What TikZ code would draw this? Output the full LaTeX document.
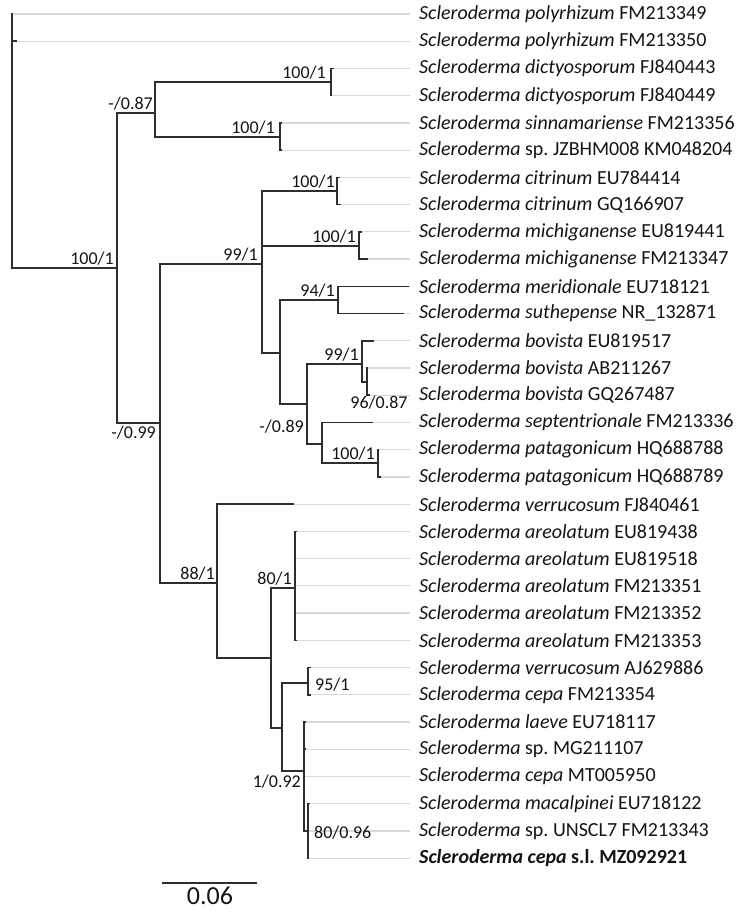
\documentclass[tikz,border=0pt]{standalone}
\usepackage{fontspec}
\setmainfont{Carlito}
\frenchspacing
\newcommand{\Scl}{\textit{Scleroderma}}
\begin{document}
\begin{tikzpicture}[x=1pt,y=-1pt,
  br/.style={line width=1.5pt, draw=black!82, line cap=rect},
  gr/.style={line width=1.2pt, draw=black!15},
  leaf/.style={anchor=west, inner sep=0pt, font=\fontsize{20}{22}\selectfont, text=black!92},
  sup/.style={inner sep=1pt, font=\fontsize{18}{20}\selectfont, text=black!92},
  scl/.style={inner sep=1pt, font=\fontsize{26}{28}\selectfont, text=black!92}]
\useasboundingbox (0,0) rectangle (737,914);
% internal nodes
\coordinate (R) at (12,141);
\coordinate (N1) at (117,268);
\coordinate (N2) at (155,113);
\coordinate (N3) at (160,423);
\coordinate (N4) at (331,82);
\coordinate (N5) at (280,137);
\coordinate (N6) at (262,264);
\coordinate (N7) at (217,583);
\coordinate (N8) at (337,191);
\coordinate (N9) at (359,246);
\coordinate (N10) at (280,353);
\coordinate (N11) at (338,300);
\coordinate (N12) at (307,404);
\coordinate (N13) at (362,364);
\coordinate (N14) at (322,444);
\coordinate (N15) at (367,382);
\coordinate (N16) at (378,463);
\coordinate (N17) at (271,658);
\coordinate (N18) at (295,588);
\coordinate (N19) at (282,728);
\coordinate (N20) at (308,683);
\coordinate (N21) at (304,771);
\coordinate (N22) at (308,831);
% leaves
\foreach \i/\tx/\p/\txt in {
 0/12/R/{\Scl\ \textit{polyrhizum} FM213349},
 1/16/R/{\Scl\ \textit{polyrhizum} FM213350},
 2/333/N4/{\Scl\ \textit{dictyosporum} FJ840443},
 3/331/N4/{\Scl\ \textit{dictyosporum} FJ840449},
 4/281/N5/{\Scl\ \textit{sinnamariense} FM213356},
 5/281/N5/{\Scl\ sp. JZBHM008 KM048204},
 6/339/N8/{\Scl\ \textit{citrinum} EU784414},
 7/340/N8/{\Scl\ \textit{citrinum} GQ166907},
 8/361/N9/{\Scl\ \textit{michiganense} EU819441},
 9/367/N9/{\Scl\ \textit{michiganense} FM213347},
 10/408/N11/{\Scl\ \textit{meridionale} EU718121},
 11/403/N11/{\Scl\ \textit{suthepense} NR\_132871},
 12/373/N13/{\Scl\ \textit{bovista} EU819517},
 13/367/N15/{\Scl\ \textit{bovista} AB211267},
 14/369/N15/{\Scl\ \textit{bovista} GQ267487},
 15/372/N14/{\Scl\ \textit{septentrionale} FM213336},
 16/378/N16/{\Scl\ \textit{patagonicum} HQ688788},
 17/380/N16/{\Scl\ \textit{patagonicum} HQ688789},
 18/293/N7/{\Scl\ \textit{verrucosum} FJ840461},
 19/296/N18/{\Scl\ \textit{areolatum} EU819438},
 20/295/N18/{\Scl\ \textit{areolatum} EU819518},
 21/295/N18/{\Scl\ \textit{areolatum} FM213351},
 22/295/N18/{\Scl\ \textit{areolatum} FM213352},
 23/296/N18/{\Scl\ \textit{areolatum} FM213353},
 24/310/N20/{\Scl\ \textit{verrucosum} AJ629886},
 25/310/N20/{\Scl\ \textit{cepa} FM213354},
 26/305/N21/{\Scl\ \textit{laeve} EU718117},
 27/305/N21/{\Scl\ sp. MG211107},
 28/304/N21/{\Scl\ \textit{cepa} MT005950},
 29/309/N22/{\Scl\ \textit{macalpinei} EU718122},
 30/308/N22/{\Scl\ sp. UNSCL7 FM213343},
 31/308/N22/{\textbf{\textit{Scleroderma cepa} s.l. MZ092921}}}{
  \pgfmathsetmacro\yy{14+27.23*\i}
  \coordinate (T\i) at (\tx,\yy);
  \coordinate (E\i) at (410,\yy);
  \draw[gr] (T\i) -- (E\i);
  \draw[br] (\p) |- (T\i);
  \node[leaf] (L\i) at (419,\yy) {\txt};
}
% internal branches
\foreach \a/\b in {R/N1,N1/N2,N1/N3,N2/N4,N2/N5,N3/N6,N3/N7,N6/N8,N6/N9,N6/N10,
  N10/N11,N10/N12,N12/N13,N12/N14,N13/N15,N14/N16,N7/N17,N17/N18,N17/N19,
  N19/N20,N19/N21,N21/N22}
  \draw[br] (\a) |- (\b);
% support values
\node[sup, anchor=south east] (s1) at (115,266) {100/1};
\node[sup, anchor=south east] (s2) at (154,111) {-/0.87};
\node[sup, anchor=south east] (s4) at (327,80) {100/1};
\node[sup, anchor=south east] (s5) at (276,135) {100/1};
\node[sup, anchor=north east] (s3) at (157,425) {-/0.99};
\node[sup, anchor=south east] (s6) at (259,262) {99/1};
\node[sup, anchor=south east] (s8) at (336,189) {100/1};
\node[sup, anchor=south east] (s9) at (357,244) {100/1};
\node[sup, anchor=south east] (s11) at (336,298) {94/1};
\node[sup, anchor=east] (s12) at (305,427) {-/0.89};
\node[sup, anchor=south east] (s13) at (360,362) {99/1};
\node[sup, anchor=north] (s15) at (379,395) {96/0.87};
\node[sup, anchor=south east] (s16) at (376,461) {100/1};
\node[sup, anchor=south east] (s7) at (216,581) {88/1};
\node[sup, anchor=south east] (s18) at (293,586) {80/1};
\node[sup, anchor=west] (s20) at (314,685) {95/1};
\node[sup, anchor=north east] (s21) at (302,774) {1/0.92};
\node[sup, anchor=west] (s22) at (313,833) {80/0.96};
% scale bar
\coordinate (S1) at (162,883);
\coordinate (S2) at (257,883);
\draw[line width=1.4pt, draw=black!82] (S1) -- (S2);
\node[scl, anchor=north] (sl) at (210,886) {0.06};
\end{tikzpicture}
\end{document}
